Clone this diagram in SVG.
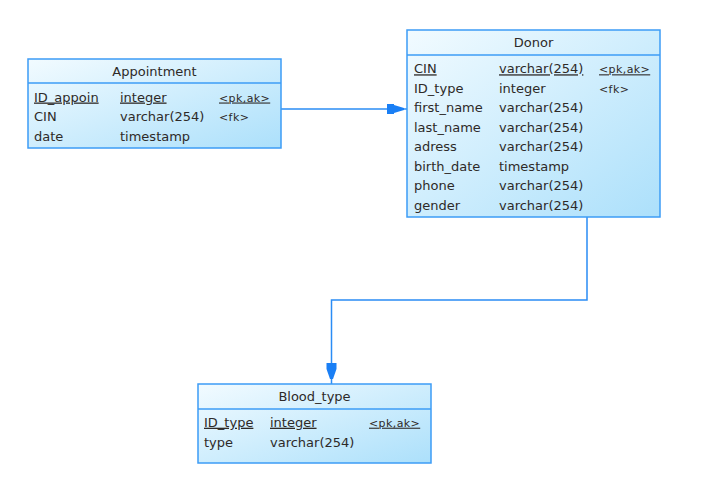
<svg xmlns="http://www.w3.org/2000/svg" width="715" height="487" viewBox="0 0 715 487">
<defs>
<linearGradient id="g" x1="0" y1="0" x2="1" y2="1">
<stop offset="0" stop-color="#f2fbff"/>
<stop offset="1" stop-color="#ace0fb"/>
</linearGradient>
<style>
.box{fill:url(#g);stroke:#3d9cf6;stroke-width:1.5}
.div{stroke:#3d9cf6;stroke-width:1.5}
text{font-family:"DejaVu Sans",sans-serif;font-size:13px;fill:#2e2a28}
.t{text-anchor:middle}
.k{font-size:11px;letter-spacing:0.4px}
.u{text-decoration:underline}
.c{fill:none;stroke:#2a8cf5;stroke-width:1.5}
.a{fill:#1a7ff5}
</style>
</defs>
<rect width="715" height="487" fill="#ffffff"/>
<g id="connectors">
<path class="c" d="M281,109 H407"/>
<polygon class="a" points="387,104 394,104 394,105 404,108 404,110 394,113 394,114 387,114"/>
<path class="c" d="M587,217 V300 H331.5 V384"/>
<polygon class="a" points="326.5,363 336.5,363 336.5,369 333,379 330,379 326.5,369"/>
</g>
<g id="appointment">
<rect class="box" x="28" y="59" width="253" height="89"/>
<line class="div" x1="28" y1="83" x2="281" y2="83"/>
<text class="t" x="154.5" y="76">Appointment</text>
<text class="u" x="34" y="101.5">ID_appoin</text>
<text class="u" x="120" y="101.5">integer</text>
<text class="k u" x="219" y="101.5">&lt;pk,ak&gt;</text>
<text x="34" y="121">CIN</text>
<text x="120" y="121">varchar(254)</text>
<text class="k" x="219" y="121">&lt;fk&gt;</text>
<text x="34" y="140.5">date</text>
<text x="120" y="140.5">timestamp</text>
</g>
<g id="donor">
<rect class="box" x="407" y="30" width="253" height="187"/>
<line class="div" x1="407" y1="55" x2="660" y2="55"/>
<text class="t" x="533.5" y="47">Donor</text>
<text class="u" x="414" y="73.3">CIN</text>
<text class="u" x="499" y="73.3">varchar(254)</text>
<text class="k u" x="599" y="73.3">&lt;pk,ak&gt;</text>
<text x="414" y="92.8">ID_type</text>
<text x="499" y="92.8">integer</text>
<text class="k" x="599" y="92.8">&lt;fk&gt;</text>
<text x="414" y="112.3">first_name</text>
<text x="499" y="112.3">varchar(254)</text>
<text x="414" y="131.8">last_name</text>
<text x="499" y="131.8">varchar(254)</text>
<text x="414" y="151.3">adress</text>
<text x="499" y="151.3">varchar(254)</text>
<text x="414" y="170.8">birth_date</text>
<text x="499" y="170.8">timestamp</text>
<text x="414" y="190.3">phone</text>
<text x="499" y="190.3">varchar(254)</text>
<text x="414" y="209.8">gender</text>
<text x="499" y="209.8">varchar(254)</text>
</g>
<g id="blood_type">
<rect class="box" x="198" y="384" width="233" height="79"/>
<line class="div" x1="198" y1="409" x2="431" y2="409"/>
<text class="t" x="314.5" y="401">Blood_type</text>
<text class="u" x="204" y="426.7">ID_type</text>
<text class="u" x="270" y="426.7">integer</text>
<text class="k u" x="369" y="426.7">&lt;pk,ak&gt;</text>
<text x="204" y="446.7">type</text>
<text x="270" y="446.7">varchar(254)</text>
</g>
</svg>
